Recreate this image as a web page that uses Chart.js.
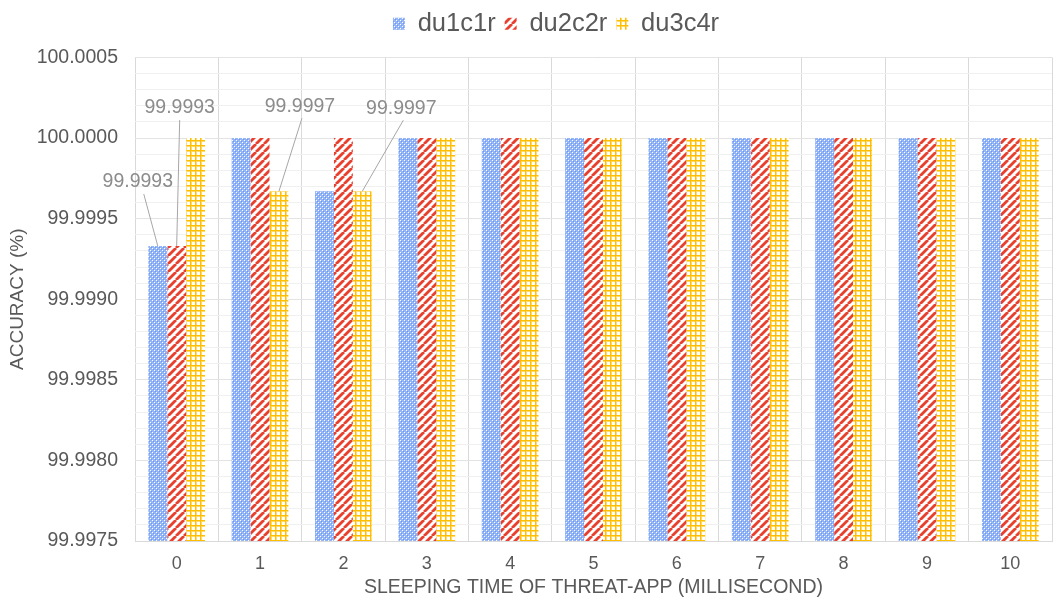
<!DOCTYPE html>
<html>
<head>
<meta charset="utf-8">
<script src="https://cdn.jsdelivr.net/npm/chart.js@4.4.1/dist/chart.umd.min.js"></script>
<style>
  html, body { margin: 0; padding: 0; background: #fff; }
  #wrap { width: 1056px; height: 599px; position: relative; }
</style>
</head>
<body>
<div id="wrap"><canvas id="c" width="1056" height="599"></canvas></div>
<script>
// Sleeping time of the threat app (ms)
const categories = ['0', '1', '2', '3', '4', '5', '6', '7', '8', '9', '10'];

// Detection accuracy (%) per configuration
const du1c1r = [99.99933, 100, 99.99967, 100, 100, 100, 100, 100, 100, 100, 100];
const du2c2r = [99.99933, 100, 100, 100, 100, 100, 100, 100, 100, 100, 100];
const du3c4r = [100, 99.99967, 99.99967, 100, 100, 100, 100, 100, 100, 100, 100];

const seriesNames = ['du1c1r', 'du2c2r', 'du3c4r'];

// Axis range and tick spacing
const yMin = 99.9975;
const yMax = 100.0005;
const yMinorStep = 0.0001;
const yMajorStep = 0.0005;

// Which bars carry a value callout: [datasetIndex, categoryIndex]
const calloutBars = [[0, 0], [1, 0], [2, 1], [2, 2]];

const FONT = '"Liberation Sans", Arial, sans-serif';

function makePattern(kind) {
  const c = document.createElement('canvas');
  const ctx = c.getContext('2d');
  if (kind === 'dots') {
    c.width = 4; c.height = 4;
    ctx.fillStyle = '#94B6F6';
    ctx.fillRect(0, 0, 4, 4);
    ctx.fillStyle = '#ffffff';
    ctx.fillRect(0, 0, 1, 1);
    ctx.fillRect(2, 2, 1, 1);
    ctx.fillStyle = '#6F98F0';
    ctx.fillRect(1, 1, 1, 1);
    ctx.fillRect(3, 3, 1, 1);
  } else if (kind === 'stripes') {
    const s = 8;
    c.width = s; c.height = s;
    ctx.fillStyle = '#ffffff';
    ctx.fillRect(0, 0, s, s);
    ctx.strokeStyle = '#E8402F';
    ctx.lineWidth = 2.8;
    for (let k = -1; k <= 1; k++) {
      ctx.beginPath();
      ctx.moveTo(k * s, s);
      ctx.lineTo(k * s + s, 0);
      ctx.stroke();
    }
  } else {
    c.width = 5; c.height = 5;
    ctx.fillStyle = '#ffffff';
    ctx.fillRect(0, 0, 5, 5);
    ctx.fillStyle = '#FFDA6A';
    ctx.fillRect(0, 1, 5, 1);
    ctx.fillRect(1, 0, 1, 5);
    ctx.fillStyle = '#FFBF00';
    ctx.fillRect(0, 0, 5, 1);
    ctx.fillRect(0, 0, 1, 5);
  }
  return document.createElement('canvas').getContext('2d').createPattern(c, 'repeat');
}

const fills = [makePattern('dots'), makePattern('stripes'), makePattern('grid')];

// Value callouts with leader lines, placed relative to each bar's top
const calloutOffsets = {
  '0-0': { dx: -20, dy: -64, lx: 6 },
  '1-0': { dx: 3, dy: -138, lx: 0 },
  '2-1': { dx: 21, dy: -85, lx: 2 },
  '2-2': { dx: 39, dy: -83, lx: 2 }
};

const calloutPlugin = {
  id: 'callouts',
  afterDatasetsDraw(chart) {
    const ctx = chart.ctx;
    ctx.save();
    ctx.font = '19.5px ' + FONT;
    ctx.textAlign = 'center';
    ctx.textBaseline = 'middle';
    calloutBars.forEach(([di, ci]) => {
      const el = chart.getDatasetMeta(di).data[ci];
      const v = chart.data.datasets[di].data[ci];
      const o = calloutOffsets[di + '-' + ci];
      const tx = el.x + o.dx, ty = el.y + o.dy;
      ctx.strokeStyle = '#A6A6A6';
      ctx.lineWidth = 1;
      ctx.beginPath();
      ctx.moveTo(tx + o.lx, ty + 12);
      ctx.lineTo(el.x, el.y);
      ctx.stroke();
      ctx.fillStyle = '#8C8C8C';
      ctx.fillText(v.toFixed(4), tx, ty);
    });
    ctx.restore();
  }
};

// Extra room below the legend, and the legend nudged right of centre
const legendPlacement = {
  id: 'legendPlacement',
  beforeInit(chart) {
    const fit = chart.legend.fit;
    chart.legend.fit = function () {
      fit.bind(chart.legend)();
      this.height += 11;
    };
  },
  afterLayout(chart) {
    chart.legend.left += 30;
    chart.legend.right += 30;
  }
};

function isMajor(v) {
  return Math.round(v * 10000) % Math.round(yMajorStep * 10000) === 0;
}

new Chart(document.getElementById('c'), {
  type: 'bar',
  data: {
    labels: categories,
    datasets: [du1c1r, du2c2r, du3c4r].map((d, i) => ({
      label: seriesNames[i],
      data: d,
      backgroundColor: fills[i],
      borderWidth: 0,
      categoryPercentage: 0.68,
      barPercentage: 1.0
    }))
  },
  plugins: [calloutPlugin, legendPlacement],
  options: {
    responsive: false,
    animation: false,
    devicePixelRatio: 1,
    layout: { padding: { left: 0, right: 4, top: 2, bottom: 0 } },
    plugins: {
      tooltip: { enabled: false },
      legend: {
        position: 'top',
        labels: {
          font: { family: FONT, size: 25.5 },
          color: '#595959',
          boxWidth: 12,
          boxHeight: 12,
          padding: 9
        }
      }
    },
    scales: {
      x: {
        afterFit(s) { s.height = 58; },
        grid: { color: '#D9D9D9', offset: true, drawTicks: false },
        border: { color: '#D9D9D9' },
        ticks: { font: { family: FONT, size: 18 }, color: '#595959', padding: 12 },
        title: {
          display: true,
          text: 'SLEEPING TIME OF THREAT-APP (MILLISECOND)',
          font: { family: FONT, size: 19.5 },
          color: '#595959',
          padding: { top: 0, bottom: 0 }
        }
      },
      y: {
        min: yMin,
        max: yMax,
        afterFit(s) { s.width = 135; },
        afterBuildTicks(s) {
          const ticks = [];
          const n = Math.round((yMax - yMin) / yMinorStep);
          for (let k = 0; k <= n; k++) ticks.push({ value: +(yMin + k * yMinorStep).toFixed(4) });
          s.ticks = ticks;
        },
        grid: {
          drawTicks: false,
          color: ctx => (ctx.tick && isMajor(ctx.tick.value)) ? '#E3E3E3' : '#F0F0F0'
        },
        border: { display: false },
        ticks: {
          font: { family: FONT, size: 19.5 },
          color: '#595959',
          padding: 17,
          autoSkip: false,
          callback: v => isMajor(v) ? v.toFixed(4) : ''
        },
        title: {
          display: true,
          text: 'ACCURACY (%)',
          font: { family: FONT, size: 19 },
          color: '#595959',
          padding: { top: 6, bottom: 0 }
        }
      }
    }
  }
});
</script>
</body>
</html>
